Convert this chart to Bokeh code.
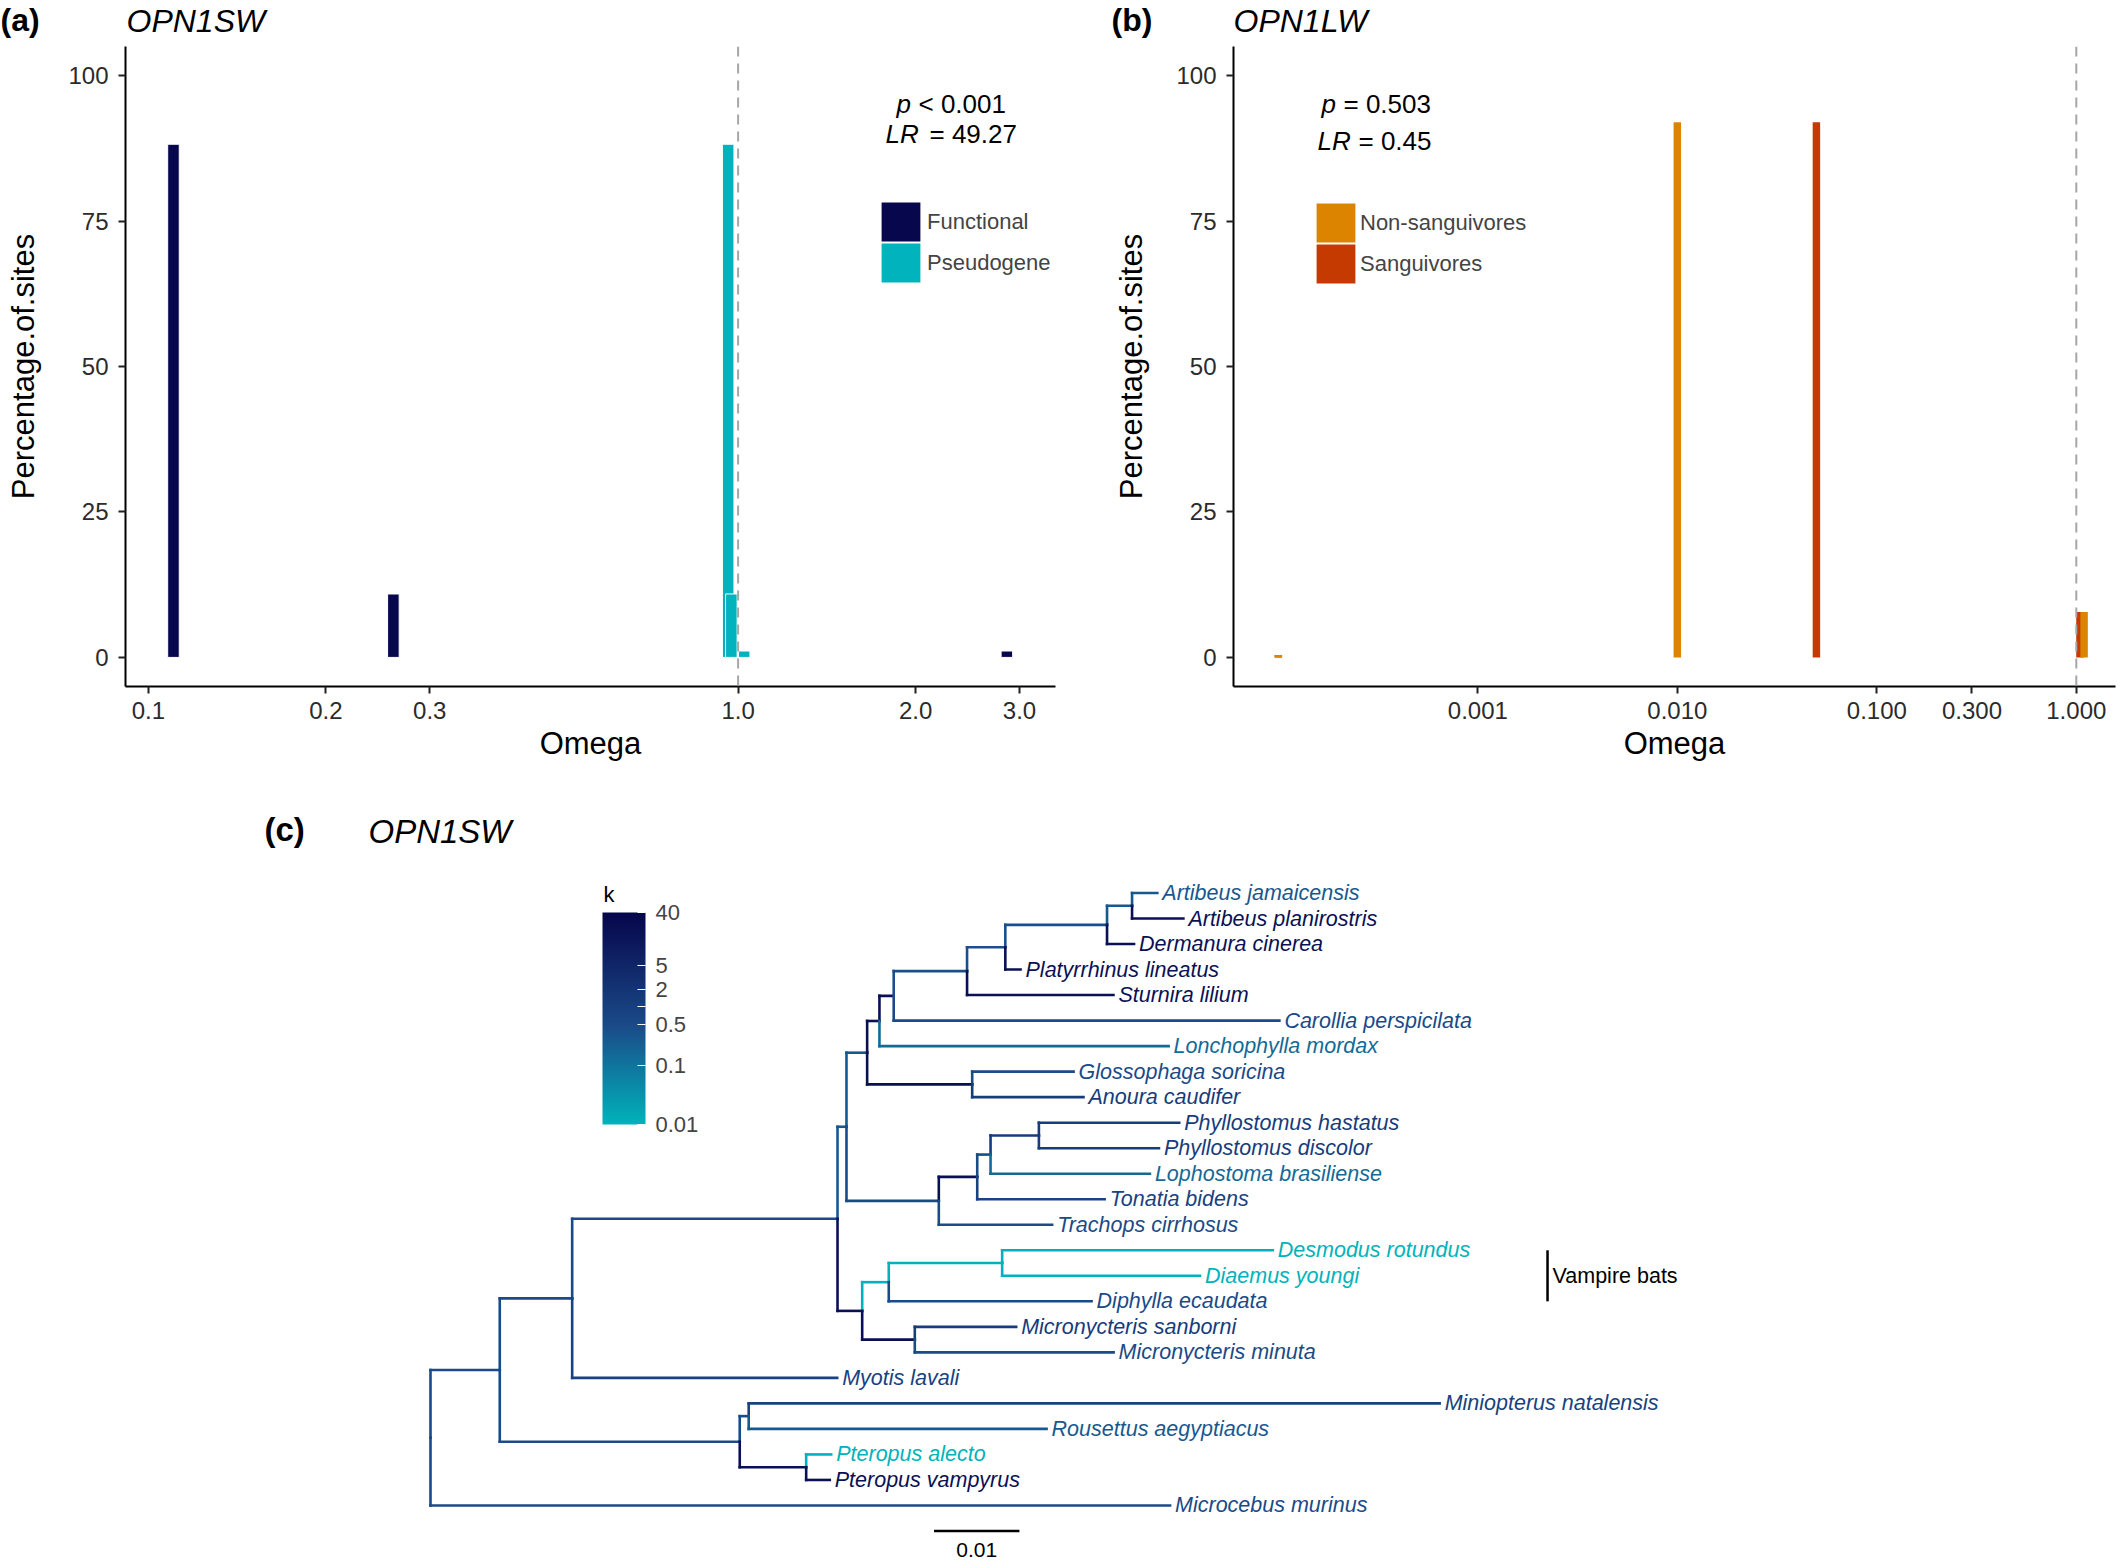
import numpy as np
from bokeh.plotting import figure
from bokeh.models import (Range1d, FixedTicker, CustomJSTickFormatter, Span, Legend, LegendItem,
                          Label, ColorBar, LogColorMapper, ColumnDataSource)
from bokeh.layouts import column, row
from bokeh.embed import file_html
from bokeh.resources import INLINE
from bokeh.core.properties import value
from bokeh.transform import log_cmap

FONT = "Liberation Sans"

# ---------------- data: panel (a) OPN1SW ----------------
A_FUNC_OMEGA = [0.1103, 0.2603, 2.856]
A_FUNC_PCT = [88.2, 10.9, 1.1]
A_PSEUDO_OMEGA = [0.962, 0.974, 1.024]
A_PSEUDO_PCT = [88.2, 10.9, 1.1]
A_XTICKS = [0.1, 0.2, 0.3, 1.0, 2.0, 3.0]
A_LABELS = ["Functional", "Pseudogene"]
A_P_TEXT = "< 0.001"
A_LR_TEXT = "= 49.27"

# ---------------- data: panel (b) OPN1LW ----------------
B_NONSANG_OMEGA = [0.0001, 0.0100, 1.094]
B_NONSANG_PCT = [0.4, 92.0, 7.8]
B_SANG_OMEGA = [0.0001, 0.0498, 1.043]
B_SANG_PCT = [0.4, 92.0, 7.8]
B_XTICKS = [0.001, 0.01, 0.1, 0.3, 1.0]
B_LABELS = ["Non-sanguivores", "Sanguivores"]
B_P_TEXT = "= 0.503"
B_LR_TEXT = "= 0.45"

Y_TICKS = [0, 25, 50, 75, 100]

# ---------------- data: panel (c) tree ----------------
TIP_ORDER = [
    "Artibeus jamaicensis", "Artibeus planirostris", "Dermanura cinerea", "Platyrrhinus lineatus",
    "Sturnira lilium", "Carollia perspicilata", "Lonchophylla mordax", "Glossophaga soricina",
    "Anoura caudifer", "Phyllostomus hastatus", "Phyllostomus discolor", "Lophostoma brasiliense",
    "Tonatia bidens", "Trachops cirrhosus", "Desmodus rotundus", "Diaemus youngi",
    "Diphylla ecaudata", "Micronycteris sanborni", "Micronycteris minuta", "Myotis lavali",
    "Miniopterus natalensis", "Rousettus aegyptiacus", "Pteropus alecto", "Pteropus vampyrus",
    "Microcebus murinus",
]
NODE = [
    "n_bats", "Microcebus murinus", "n_Y", "n_L", "n_P", "Myotis lavali", "n_MR", "n_Pt",
    "Miniopterus natalensis", "Rousettus aegyptiacus", "Pteropus alecto", "Pteropus vampyrus",
    "n_P1", "n_P2", "n_P1a", "n_P1b", "n_N1", "n_GA", "n_N2", "Lonchophylla mordax",
    "n_N3", "Carollia perspicilata", "n_N4", "Sturnira lilium", "n_N5", "Platyrrhinus lineatus",
    "n_N6", "Dermanura cinerea", "Artibeus jamaicensis", "Artibeus planirostris",
    "Glossophaga soricina", "Anoura caudifer", "n_N7", "Trachops cirrhosus", "n_N8",
    "Tonatia bidens", "n_PH", "Lophostoma brasiliense", "Phyllostomus hastatus",
    "Phyllostomus discolor", "n_V1", "n_MI", "n_V", "Diphylla ecaudata", "Desmodus rotundus",
    "Diaemus youngi", "Micronycteris sanborni", "Micronycteris minuta",
]
PARENT = [
    "root", "root", "n_bats", "n_bats", "n_Y", "n_Y", "n_L", "n_L",
    "n_MR", "n_MR", "n_Pt", "n_Pt",
    "n_P", "n_P", "n_P1", "n_P1", "n_P1a", "n_P1a", "n_N1", "n_N1",
    "n_N2", "n_N2", "n_N3", "n_N3", "n_N4", "n_N4",
    "n_N5", "n_N5", "n_N6", "n_N6",
    "n_GA", "n_GA", "n_P1b", "n_P1b", "n_N7",
    "n_N7", "n_N8", "n_N8", "n_PH",
    "n_PH", "n_P2", "n_P2", "n_V1", "n_V1", "n_V",
    "n_V", "n_MI", "n_MI",
]
BRLEN = [
    0.00811, 0.08660, 0.00848, 0.02810, 0.03107, 0.03103, 0.00105, 0.00778,
    0.08091, 0.03488, 0.00293, 0.00276,
    0.00105, 0.00289, 0.00242, 0.01081, 0.00144, 0.01230, 0.00167, 0.03386,
    0.00859, 0.04516, 0.00448, 0.01714, 0.01191, 0.00178,
    0.00293, 0.00316, 0.00296, 0.00601,
    0.01187, 0.01303, 0.00450, 0.01327, 0.00156,
    0.01492, 0.00566, 0.01866, 0.01643,
    0.01406, 0.00311, 0.00616, 0.01328, 0.02375, 0.03169,
    0.02317, 0.01187, 0.02328,
]
K_VALUE = [
    0.5, 0.5, 0.5, 0.5, 0.5, 0.8, 0.5, 20,
    0.8, 0.3, 0.01, 20,
    0.3, 20, 0.3, 0.5, 20, 20, 20, 0.15,
    0.4, 0.5, 0.4, 20, 0.4, 20,
    0.3, 20, 0.3, 20,
    0.5, 1.2, 20, 0.5, 0.5,
    0.8, 1.2, 0.15, 1.2,
    1.2, 0.01, 20, 0.01, 0.5, 0.01,
    0.01, 1.2, 0.5,
]
K_TICKS = [0.01, 0.1, 0.5, 1, 2, 5, 40]
K_LOW, K_HIGH = 0.01, 40
CLADE_TIPS = ["Desmodus rotundus", "Diaemus youngi"]
CLADE_TEXT = "Vampire bats"
SCALE_LEN = 0.01

# ---------------- styles ----------------
NAVY = "#07074D"
CYAN = "#00B3BC"
ORANGE = "#DC8400"
RED = "#C53A00"
PAL_STOPS = ["#00B3BB", "#1A4A88", "#06064B"]
PAL_POS = [0.0, 0.47, 1.0]


def build_palette(n=256):
    rgb = np.array([[int(c[i:i + 2], 16) for i in (1, 3, 5)] for c in PAL_STOPS], float)
    out = []
    for tt in np.linspace(0, 1, n):
        r = [np.interp(tt, PAL_POS, rgb[:, j]) for j in range(3)]
        out.append("#%02x%02x%02x" % tuple(int(round(v)) for v in r))
    return out


PALETTE = build_palette()


def style_axes(p):
    p.grid.visible = False
    p.outline_line_color = None
    p.background_fill_color = "white"
    p.border_fill_color = "white"
    for ax in (p.xaxis, p.yaxis):
        ax.axis_line_width = 2
        ax.axis_line_color = "black"
        ax.major_tick_line_color = "#222222"
        ax.major_tick_line_width = 2
        ax.major_tick_out = 7
        ax.major_tick_in = 0
        ax.minor_tick_line_color = None
        ax.major_label_text_font = FONT
        ax.major_label_text_font_size = "24px"
        ax.major_label_text_color = "#2b2b2b"
        ax.axis_label_text_font = FONT
        ax.axis_label_text_font_size = "31px"
        ax.axis_label_text_font_style = "normal"
        ax.axis_label_text_color = "black"
    p.yaxis.ticker = FixedTicker(ticks=Y_TICKS)
    p.yaxis.axis_label = "Percentage.of.sites"
    p.yaxis.major_label_standoff = 10
    p.yaxis.axis_label_standoff = 24
    p.xaxis.axis_label = "Omega"
    p.xaxis.major_label_standoff = 8
    p.xaxis.axis_label_standoff = 4


def add_bars(p, omega, pct, color, half_w, line_color):
    om = np.array(omega, float)
    src = ColumnDataSource(dict(left=om * 10 ** (-half_w), right=om * 10 ** half_w,
                                top=pct, bottom=[0] * len(pct)))
    return p.quad(left="left", right="right", top="top", bottom="bottom", source=src,
                  fill_color=color, line_color=line_color, line_width=1)


def legend_key(p, color):
    # proxy renderer with an undrawable (NaN) row: it only supplies the legend swatch,
    # whose thick same-colour outline enlarges the key like ggplot's square keys
    nan = [float("nan")]
    src = ColumnDataSource(dict(left=nan, right=nan, top=nan, bottom=nan))
    return p.quad(left="left", right="right", top="top", bottom="bottom", source=src,
                  fill_color=color, line_color=color, line_width=6, line_join="miter")


def add_label(p, x, y, text, size, style="normal", color="black"):
    p.add_layout(Label(x=x, y=y, x_units="screen", y_units="screen", text=text,
                       text_font=FONT, text_font_size=size, text_font_style=style,
                       text_color=color, text_baseline="middle", text_align="left"))


def make_legend(p, labels, colors, loc, standoff):
    items = [LegendItem(label=l, renderers=[legend_key(p, c)]) for l, c in zip(labels, colors)]
    leg = Legend(items=items, location=loc, glyph_width=41, glyph_height=41, spacing=0,
                 padding=0, margin=0, label_standoff=standoff, label_text_font=FONT,
                 label_text_font_size="22px", label_height=41,
                 background_fill_alpha=0, border_line_alpha=0)
    p.add_layout(leg)


# ---------------- header with panel titles ----------------
ph = figure(width=2128, height=46, x_range=Range1d(0, 1), y_range=Range1d(0, 1),
            output_backend="svg", toolbar_location=None, min_border=0)
ph.axis.visible = False
ph.grid.visible = False
ph.outline_line_color = None
add_label(ph, 0, 27, "(a)", "32px", "bold")
add_label(ph, 126, 26, "OPN1SW", "32px", "italic")
add_label(ph, 1111, 27, "(b)", "32px", "bold")
add_label(ph, 1233, 26, "OPN1LW", "32px", "italic")

# ---------------- panel (a) ----------------
pa = figure(width=1100, height=734, x_axis_type="log", x_range=Range1d(0.09146, 3.453),
            y_range=Range1d(-5, 105), output_backend="svg", toolbar_location=None,
            min_border_left=125, min_border_right=45, min_border_top=0, min_border_bottom=94)
style_axes(pa)
pa.xaxis.ticker = FixedTicker(ticks=A_XTICKS)
pa.xaxis.formatter = CustomJSTickFormatter(code="return tick.toFixed(1);")
add_bars(pa, A_FUNC_OMEGA, A_FUNC_PCT, NAVY, 0.0098, "white")
add_bars(pa, A_PSEUDO_OMEGA, A_PSEUDO_PCT, CYAN, 0.0098, "white")
pa.add_layout(Span(location=1.0, dimension="height", line_color="#A6A6A6", line_width=2,
                   line_dash="10 7"))
make_legend(pa, A_LABELS, [NAVY, CYAN], (755, 403), 6)
add_label(pa, 771, 583, "p", "26px", "italic")
add_label(pa, 793, 583, A_P_TEXT, "26px")
add_label(pa, 760, 553, "LR", "26px", "italic")
add_label(pa, 804, 553, A_LR_TEXT, "26px")

# ---------------- panel (b) ----------------
pb = figure(width=1028, height=734, x_axis_type="log", x_range=Range1d(5.96e-5, 1.572),
            y_range=Range1d(-5, 105), output_backend="svg", toolbar_location=None,
            min_border_left=133, min_border_right=13, min_border_top=0, min_border_bottom=94)
style_axes(pb)
pb.xaxis.ticker = FixedTicker(ticks=B_XTICKS)
pb.xaxis.formatter = CustomJSTickFormatter(code="return tick.toFixed(3);")
add_bars(pb, B_SANG_OMEGA, B_SANG_PCT, RED, 0.0187, None)
add_bars(pb, B_NONSANG_OMEGA, B_NONSANG_PCT, ORANGE, 0.0187, None)
pb.add_layout(Span(location=1.0, dimension="height", line_color="#A6A6A6", line_width=2,
                   line_dash="10 7"))
make_legend(pb, B_LABELS, [ORANGE, RED], (82, 402), 4)
add_label(pb, 88, 583, "p", "26px", "italic")
add_label(pb, 110, 583, B_P_TEXT, "26px")
add_label(pb, 84, 546, "LR", "26px", "italic")
add_label(pb, 125, 546, B_LR_TEXT, "26px")

# ---------------- panel (c) tree ----------------
children = {}
for n, par in zip(NODE, PARENT):
    children.setdefault(par, []).append(n)
blen = dict(zip(NODE, BRLEN))
kval = dict(zip(NODE, K_VALUE))
parent_of = dict(zip(NODE, PARENT))

xpos = {"root": 0.0}


def set_x(n):
    for c in children.get(n, []):
        xpos[c] = xpos[n] + blen[c]
        set_x(c)


set_x("root")
ypos = {t: i + 1 for i, t in enumerate(TIP_ORDER)}


def get_y(n):
    if n in ypos:
        return ypos[n]
    ys = [get_y(c) for c in children[n]]
    ypos[n] = (min(ys) + max(ys)) / 2.0
    return ypos[n]


get_y("root")

seg = dict(x0=[], y0=[], x1=[], y1=[], k=[])
for n in NODE:
    par = parent_of[n]
    seg["x0"].append(xpos[par]); seg["y0"].append(ypos[par])
    seg["x1"].append(xpos[par]); seg["y1"].append(ypos[n]); seg["k"].append(kval[n])
    seg["x0"].append(xpos[par]); seg["y0"].append(ypos[n])
    seg["x1"].append(xpos[n]); seg["y1"].append(ypos[n]); seg["k"].append(kval[n])

tips = dict(x=[xpos[t] for t in TIP_ORDER], y=[ypos[t] for t in TIP_ORDER],
            name=TIP_ORDER, k=[kval[t] for t in TIP_ORDER])

pc = figure(width=2128, height=780, x_range=Range1d(-0.050351, 0.198829),
            y_range=Range1d(27.156, -3.408), output_backend="svg", toolbar_location=None,
            min_border=0)
pc.axis.visible = False
pc.grid.visible = False
pc.outline_line_color = None
cmap = log_cmap("k", PALETTE, K_LOW, K_HIGH)
pc.segment(x0="x0", y0="y0", x1="x1", y1="y1", source=ColumnDataSource(seg),
           line_color=cmap, line_width=2.6, line_cap="square")
pc.text(x="x", y="y", text="name", source=ColumnDataSource(tips), x_offset=5,
        text_baseline="middle", text_align="left", text_font=value(FONT),
        text_font_size="21.5px", text_font_style="italic", text_color=cmap)

# clade label
CLADE_X = 0.1308
cy0 = ypos[CLADE_TIPS[0]]
cy1 = ypos[CLADE_TIPS[-1]] + 1.0
pc.segment(x0=[CLADE_X], y0=[cy0], x1=[CLADE_X], y1=[cy1], line_color="black", line_width=2.5)
pc.text(x=[CLADE_X], y=[(cy0 + cy1) / 2], text=[CLADE_TEXT], x_offset=5, text_baseline="middle",
        text_font=value(FONT), text_font_size="21.5px", text_color="black")

# scale bar
SCALE_X = 0.05896
SCALE_Y = len(TIP_ORDER) + 1.0
pc.segment(x0=[SCALE_X], y0=[SCALE_Y], x1=[SCALE_X + SCALE_LEN], y1=[SCALE_Y],
           line_color="black", line_width=2.5)
pc.text(x=[SCALE_X + SCALE_LEN / 2], y=[SCALE_Y + 0.76], text=[str(SCALE_LEN)],
        text_baseline="middle", text_align="center", text_font=value(FONT),
        text_font_size="21px", text_color="black")

mapper = LogColorMapper(palette=PALETTE, low=K_LOW, high=K_HIGH)
cb = ColorBar(color_mapper=mapper, ticker=FixedTicker(ticks=K_TICKS),
              formatter=CustomJSTickFormatter(code="return String(tick);"),
              location=(602, 436), width=43, height=212, padding=0,
              major_label_text_font=FONT, major_label_text_font_size="22px",
              major_tick_line_color="white", major_tick_in=8, major_tick_out=0,
              bar_line_color=None, background_fill_alpha=0, border_line_alpha=0,
              label_standoff=10)
pc.add_layout(cb)
add_label(pc, 603, 666, "k", "22px")

add_label(pc, 264, 731, "(c)", "33px", "bold")
add_label(pc, 368, 729, "OPN1SW", "33px", "italic")

layout = column(ph, row(pa, pb), pc)
open("out.html", "w").write(file_html(layout, INLINE))
